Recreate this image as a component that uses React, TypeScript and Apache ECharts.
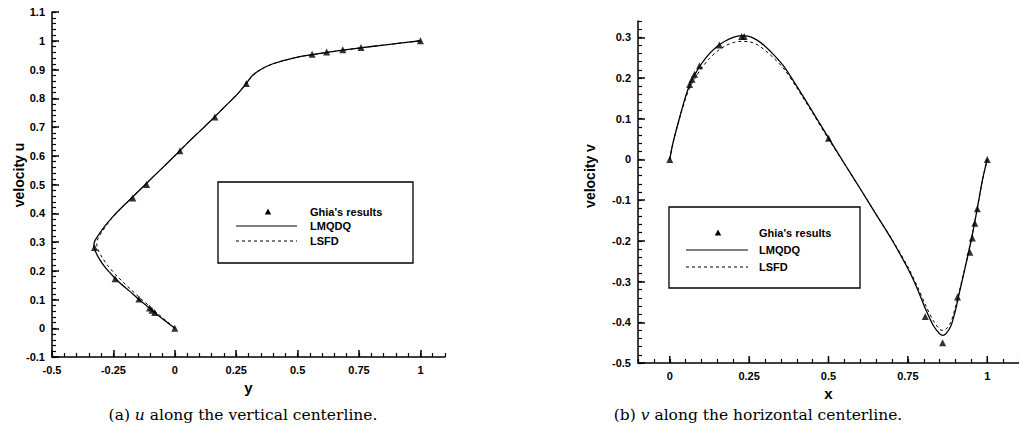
import React, { useEffect, useRef } from "react";
import * as echarts from "echarts";

// ---------- (a) u along the vertical centerline ----------
const ghiaAX = [0, -0.082, -0.093, -0.103, -0.146, -0.243, -0.327, -0.171, -0.115, 0.021, 0.163, 0.291, 0.559, 0.618, 0.684, 0.758, 1];
const ghiaAY = [0, 0.0547, 0.0625, 0.0703, 0.1016, 0.1719, 0.2813, 0.4531, 0.5, 0.6172, 0.7344, 0.8516, 0.9531, 0.9609, 0.9688, 0.9766, 1];

const lmqdqAX = [0, -0.04, -0.08, -0.115, -0.15, -0.185, -0.22, -0.25, -0.28, -0.305, -0.322, -0.33, -0.325, -0.31, -0.285, -0.25, -0.21, -0.17, -0.12, -0.06, 0, 0.05, 0.1, 0.15, 0.2, 0.25, 0.29, 0.315, 0.35, 0.4, 0.5, 0.6, 0.7, 0.8, 0.9, 1];
const lmqdqAY = [0, 0.026, 0.053, 0.078, 0.103, 0.13, 0.155, 0.18, 0.208, 0.238, 0.265, 0.285, 0.305, 0.325, 0.355, 0.39, 0.425, 0.458, 0.5, 0.55, 0.6, 0.643, 0.684, 0.725, 0.768, 0.81, 0.85, 0.878, 0.9, 0.92, 0.943, 0.957, 0.969, 0.98, 0.99, 1];

const lsfdAX = [0, -0.035, -0.072, -0.105, -0.14, -0.175, -0.21, -0.24, -0.27, -0.295, -0.312, -0.318, -0.314, -0.302, -0.28, -0.25, -0.21, -0.17, -0.12, -0.06, 0, 0.05, 0.1, 0.15, 0.2, 0.25, 0.29, 0.315, 0.35, 0.4, 0.5, 0.6, 0.7, 0.8, 0.9, 1];
const lsfdAY = [0, 0.026, 0.053, 0.078, 0.104, 0.132, 0.16, 0.186, 0.215, 0.245, 0.272, 0.292, 0.31, 0.328, 0.356, 0.39, 0.425, 0.458, 0.5, 0.55, 0.6, 0.643, 0.684, 0.725, 0.768, 0.81, 0.85, 0.878, 0.9, 0.92, 0.943, 0.957, 0.969, 0.98, 0.99, 1];

// ---------- (b) v along the horizontal centerline ----------
const ghiaBX = [1, 0.9688, 0.9609, 0.9531, 0.9453, 0.9063, 0.8594, 0.8047, 0.5, 0.2344, 0.2266, 0.1563, 0.0938, 0.0781, 0.0703, 0.0625, 0];
const ghiaBY = [0, -0.121, -0.157, -0.193, -0.228, -0.338, -0.45, -0.386, 0.052, 0.302, 0.302, 0.281, 0.23, 0.209, 0.197, 0.184, 0];

const lmqdqBX = [0, 0.01, 0.03, 0.05, 0.065, 0.08, 0.1, 0.125, 0.15, 0.175, 0.2, 0.225, 0.25, 0.275, 0.3, 0.33, 0.36, 0.4, 0.45, 0.5, 0.55, 0.6, 0.65, 0.7, 0.75, 0.78, 0.807, 0.83, 0.85, 0.86, 0.87, 0.885, 0.9, 0.91, 0.932, 0.953, 0.971, 0.985, 1];
const lmqdqBY = [0, 0.04, 0.1, 0.155, 0.188, 0.21, 0.235, 0.26, 0.278, 0.291, 0.3, 0.304, 0.302, 0.293, 0.278, 0.255, 0.228, 0.18, 0.117, 0.053, -0.01, -0.072, -0.135, -0.198, -0.268, -0.318, -0.37, -0.408, -0.428, -0.432, -0.428, -0.41, -0.37, -0.335, -0.26, -0.185, -0.11, -0.05, 0];

const lsfdBX = lmqdqBX;
const lsfdBY = [0, 0.04, 0.098, 0.15, 0.18, 0.2, 0.224, 0.248, 0.266, 0.279, 0.287, 0.29, 0.289, 0.282, 0.268, 0.247, 0.222, 0.176, 0.114, 0.05, -0.011, -0.072, -0.135, -0.196, -0.264, -0.312, -0.36, -0.396, -0.417, -0.42, -0.417, -0.4, -0.362, -0.33, -0.258, -0.184, -0.11, -0.05, 0];

// labelled ticks of the (b) horizontal axis
const ticksBX = [0, 0.25, 0.5, 0.75, 1];

const zip = (xs: number[], ys: number[]) => xs.map((x, i) => [x, ys[i]]);

const FONT = "Liberation Sans";
const BLACK = "#000";
const fmt = (v: number) => String(Math.round(v * 1000) / 1000);

function majorAxis(min: number, max: number, interval: number, gridIndex: number, pos: string, extra: any = {}) {
  return {
    type: "value",
    gridIndex,
    position: pos,
    min,
    max,
    interval,
    axisLine: { show: true, onZero: false, lineStyle: { color: BLACK, width: 1.5 } },
    axisTick: { show: true, inside: true, length: 7, lineStyle: { color: BLACK, width: 1.5 } },
    minorTick: { show: false },
    axisLabel: {
      show: true,
      showMaxLabel: false,
      color: BLACK,
      fontFamily: FONT,
      fontWeight: "bold",
      fontSize: 11,
      margin: 7,
      formatter: fmt,
    },
    splitLine: { show: false },
    ...extra,
  };
}

function minorAxis(min: number, max: number, interval: number, gridIndex: number, pos: string) {
  return {
    type: "value",
    gridIndex,
    position: pos,
    min,
    max,
    interval,
    axisLine: { show: false, onZero: false },
    axisTick: { show: true, inside: true, length: 4, lineStyle: { color: BLACK, width: 1.2 } },
    axisLabel: { show: false },
    splitLine: { show: false },
  };
}

export default function App() {
  const ref = useRef<HTMLDivElement>(null);
  useEffect(() => {
    if (!ref.current) return;
    const chart = echarts.init(ref.current, null, { renderer: "svg" });
    const nameStyle = { color: BLACK, fontFamily: FONT, fontWeight: "bold", fontSize: 15 };
    const legendText = (x: number, y: number, t: string) => ({
      type: "text",
      x,
      y,
      z: 11,
      style: { text: t, fill: BLACK, font: `bold 11px "${FONT}"`, textAlign: "left", textVerticalAlign: "middle" },
    });
    const legend = (bx: number, by: number, bw: number, bh: number, tx: number, lx0: number, lx1: number, y1: number, y2: number, y3: number, trix: number) => [
      { type: "rect", z: 10, shape: { x: bx, y: by, width: bw, height: bh }, style: { fill: "#fff", stroke: BLACK, lineWidth: 1.3 } },
      { type: "polygon", z: 11, shape: { points: [[trix, y1 - 3.5], [trix - 3.2, y1 + 2.5], [trix + 3.2, y1 + 2.5]] }, style: { fill: BLACK } },
      { type: "line", z: 11, shape: { x1: lx0, y1: y2, x2: lx1, y2: y2 }, style: { stroke: BLACK, lineWidth: 1.2 } },
      { type: "line", z: 11, shape: { x1: lx0, y1: y3, x2: lx1, y2: y3 }, style: { stroke: BLACK, lineWidth: 1, lineDash: [3, 3] } },
      legendText(tx, y1, "Ghia's results"),
      legendText(tx, y2, "LMQDQ"),
      legendText(tx, y3, "LSFD"),
    ];
    const yTitle = (x: number, y: number, t: string) => ({
      type: "text",
      x,
      y,
      rotation: Math.PI / 2,
      style: { text: t, fill: BLACK, font: `bold 14px "${FONT}"`, textAlign: "center", textVerticalAlign: "middle" },
    });
    const caption = (x: number, y: number, label: string, v: string, rest: string) => ({
      type: "text",
      x,
      y,
      style: {
        text: `${label} {i|${v}} ${rest}`,
        rich: { i: { fontStyle: "italic", fontFamily: "DejaVu Serif", fontSize: 15.5, fill: BLACK } },
        fill: BLACK,
        font: `15.5px "DejaVu Serif"`,
        textAlign: "center",
        textVerticalAlign: "middle",
      },
    });

    const tickRender = (params: any, api: any) => {
      const p = api.coord([api.value(0), api.value(1)]);
      return {
        type: "line",
        shape: { x1: p[0], y1: p[1], x2: p[0], y2: p[1] - 7 },
        style: { stroke: BLACK, lineWidth: 1.5 },
      };
    };

    chart.setOption({
      animation: false,
      backgroundColor: "#fff",
      grid: [
        { left: 52, top: 12, width: 393, height: 345, containLabel: false },
        { left: 638, top: 21, width: 382, height: 342, containLabel: false },
      ],
      xAxis: [
        majorAxis(-0.5, 1.1, 0.25, 0, "bottom", { name: "y", nameLocation: "middle", nameGap: 21, nameTextStyle: nameStyle }),
        minorAxis(-0.5, 1.1, 0.05, 0, "bottom"),
        majorAxis(-0.1, 1.1, 0.05, 1, "bottom", {
          name: "x",
          nameLocation: "middle",
          nameGap: 15,
          nameTextStyle: nameStyle,
          axisTick: { show: false },
          axisLabel: {
            show: true,
            customValues: ticksBX,
            color: BLACK,
            fontFamily: FONT,
            fontWeight: "bold",
            fontSize: 11,
            margin: 7,
            formatter: fmt,
          },
        }),
        minorAxis(-0.1, 1.1, 0.05, 1, "bottom"),
      ],
      yAxis: [
        majorAxis(-0.1, 1.1, 0.1, 0, "left", { axisLabel: { show: true, showMaxLabel: true, color: BLACK, fontFamily: FONT, fontWeight: "bold", fontSize: 11, margin: 7, formatter: fmt } }),
        minorAxis(-0.1, 1.1, 0.02, 0, "left"),
        majorAxis(-0.5, 0.34, 0.1, 1, "left"),
        minorAxis(-0.5, 0.34, 0.02, 1, "left"),
      ],
      series: [
        { name: "LMQDQ", type: "line", xAxisIndex: 0, yAxisIndex: 0, data: zip(lmqdqAX, lmqdqAY), showSymbol: false, smooth: 0.3, lineStyle: { color: BLACK, width: 1.3 }, z: 3 },
        { name: "LSFD", type: "line", xAxisIndex: 0, yAxisIndex: 0, data: zip(lsfdAX, lsfdAY), showSymbol: false, smooth: 0.3, lineStyle: { color: BLACK, width: 1, type: [3, 3] }, z: 3 },
        { name: "Ghia's results", type: "scatter", xAxisIndex: 0, yAxisIndex: 0, data: zip(ghiaAX, ghiaAY), symbol: "triangle", symbolSize: 7, itemStyle: { color: BLACK }, z: 4 },
        { name: "LMQDQ", type: "line", xAxisIndex: 2, yAxisIndex: 2, data: zip(lmqdqBX, lmqdqBY), showSymbol: false, smooth: 0.3, lineStyle: { color: BLACK, width: 1.3 }, z: 3 },
        { name: "LSFD", type: "line", xAxisIndex: 2, yAxisIndex: 2, data: zip(lsfdBX, lsfdBY), showSymbol: false, smooth: 0.3, lineStyle: { color: BLACK, width: 1, type: [3, 3] }, z: 3 },
        { name: "Ghia's results", type: "scatter", xAxisIndex: 2, yAxisIndex: 2, data: zip(ghiaBX, ghiaBY), symbol: "triangle", symbolSize: 7, itemStyle: { color: BLACK }, z: 4 },
        { name: "xticks", type: "custom", xAxisIndex: 2, yAxisIndex: 2, data: ticksBX.map((v) => [v, -0.5]), renderItem: tickRender, silent: true, clip: false, z: 5 },
      ],
      graphic: [
        ...legend(218, 182, 195, 81, 310, 236, 297, 212, 226, 241, 268),
        ...legend(669, 207, 191, 81, 759, 686, 748, 233, 250, 267, 718),
        yTitle(18.5, 175, "velocity u"),
        yTitle(590, 176, "velocity v"),
        caption(243, 415, "(a)", "u", "along the vertical centerline."),
        caption(758, 415, "(b)", "v", "along the horizontal centerline."),
      ],
    });
    return () => chart.dispose();
  }, []);
  return <div ref={ref} style={{ position: "absolute", left: 0, top: 0, width: 1019, height: 433 }} />;
}
